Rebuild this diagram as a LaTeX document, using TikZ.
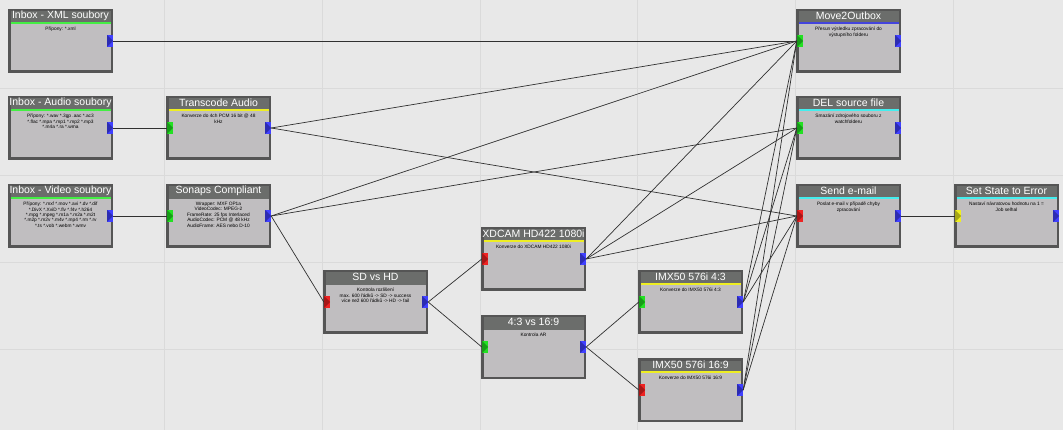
\documentclass[tikz,border=0pt]{standalone}
\usepackage{fontspec}
\setmainfont{Liberation Sans}
\usetikzlibrary{calc}
\definecolor{bgc}{HTML}{E8E8E8}
\definecolor{gridc}{HTML}{DADADA}
\definecolor{bodyc}{HTML}{C0BEC0}
\definecolor{titlec}{HTML}{6B6D6B}
\definecolor{borderc}{HTML}{555555}
\definecolor{lgreen}{HTML}{44EE44}
\definecolor{lyellow}{HTML}{EEEE22}
\definecolor{lblue}{HTML}{4444DD}
\definecolor{lcyan}{HTML}{44EEEE}
\definecolor{pgreen}{HTML}{22E022}
\definecolor{pred}{HTML}{EE2222}
\definecolor{pblue}{HTML}{4040FF}
\definecolor{pyellow}{HTML}{EEEE22}
\definecolor{wirec}{HTML}{303030}
\tikzset{
  wfbody/.style={rectangle, anchor=north west, minimum width=105pt, minimum height=64pt, inner sep=0pt, fill=bodyc, draw=none},
  wftitle/.style={text=white, font=\fontsize{10.5}{12}\selectfont, inner sep=0pt},
  wftext/.style={text=black, font=\fontsize{4.8}{5.4}\selectfont, align=center, inner sep=0pt, anchor=north},
  wfport/.style={rectangle, minimum width=6pt, minimum height=12pt, inner sep=0pt, draw=none,
    path picture={\fill[black, opacity=0.3] (path picture bounding box.north west) -- (path picture bounding box.east) -- (path picture bounding box.south west) -- cycle;}},
  wire/.style={draw=wirec, line width=0.7pt},
}
% #1 name, #2 x, #3 y, #4 title, #5 body, #6 line colour
\newcommand\wfblock[6]{%
  \node[wfbody] (#1) at (#2,#3) {};
  \fill[titlec] (#2,#3) rectangle ++(105,13);
  \fill[#6] ($(#2,#3)+(0,13)$) rectangle ++(105,2);
  \draw[borderc, line width=2.5pt] ($(#2,#3)+(1.25,1.25)$) rectangle ++(102.5,61.5);
  \node[wftitle] (#1-title) at ($(#2,#3)+(52.5,7)$) {#4};
  \node[wftext] (#1-text) at ($(#2,#3)+(52.5,18)$) {#5};
}
% #1 name, #2 x, #3 y, #4 colour
\newcommand\wfport[4]{%
  \node[wfport, fill=#4] (#1) at (#2,#3) {};
}
\begin{document}
\begin{tikzpicture}[x=1pt,y=-1pt]
\useasboundingbox (0,0) rectangle (1063,430);
\fill[bgc] (0,0) rectangle (1063,430);
\foreach \gx in {164,322,480,637,795,953} {\draw[gridc, line width=0.8pt] (\gx,0) -- (\gx,430);}
\foreach \gy in {88,175,262,349} {\draw[gridc, line width=0.8pt] (0,\gy) -- (1063,\gy);}

\wfblock{xml}{8}{9}{Inbox - XML soubory}{Přípony: *.xml}{lgreen}
\wfblock{audio}{8}{96}{Inbox - Audio soubory}{Přípony: *.wav *.3gp .aac *.ac3\\*.flac *.mpa *.mp1 *.mp2 *.mp3\\*.m4a *.ra *.wma}{lgreen}
\wfblock{video}{8}{184}{Inbox - Video soubory}{Přípony: *.mxf *.mov *.avi *.dv *.dif\\*.DivX *.XviD *.flv *.f4v *.h264\\*.mpg *.mpeg *.m1a *.m2a *.m2t\\*.m2p *.m2v *.m4v *.mp4 *.rm *.rv\\*.ts *.vob *.webm *.wmv}{lgreen}
\wfblock{trans}{166}{96}{Transcode Audio}{Konverze do 4ch PCM 16 bit @ 48\\kHz}{lyellow}
\wfblock{sonaps}{166}{184}{Sonaps Compliant}{Wrapper: MXF OP1a\\VideoCodec: MPEG-2\\FrameRate: 25 fps Interlaced\\AudioCodec: PCM @ 48 kHz\\AudioFrame: AES nebo D-10}{titlec}
\wfblock{sdhd}{323}{270}{SD vs HD}{Kontrola rozlišení\\max. 600 řádků -> SD -> success\\více než 600 řádků -> HD -> fail}{titlec}
\wfblock{xdcam}{481}{227}{XDCAM HD422 1080i}{Konverze do XDCAM HD422 1080i}{lyellow}
\wfblock{ar}{481}{315}{4:3 vs 16:9}{Kontrola AR}{titlec}
\wfblock{imxa}{638}{270}{IMX50 576i 4:3}{Konverze do IMX50 576i 4:3}{lyellow}
\wfblock{imxb}{638}{358}{IMX50 576i 16:9}{Konverze do IMX50 576i 16:9}{lyellow}
\wfblock{move}{796}{9}{Move2Outbox}{Přesun výsledku zpracování do\\výstupního folderu}{lblue}
\wfblock{del}{796}{96}{DEL source file}{Smazání zdrojového souboru z\\watchfolderu}{lcyan}
\wfblock{send}{796}{184}{Send e-mail}{Poslat e-mail v případě chyby\\zpracování}{lcyan}
\wfblock{err}{954}{184}{Set State to Error}{Nastaví návratovou hodnotu na 1 =\\Job selhal}{lcyan}

% output ports
\wfport{xml-out}{110}{41}{pblue}
\wfport{audio-out}{110}{128}{pblue}
\wfport{video-out}{110}{216}{pblue}
\wfport{trans-out}{268}{128}{pblue}
\wfport{sonaps-out}{268}{216}{pblue}
\wfport{sdhd-out}{425}{302}{pblue}
\wfport{xdcam-out}{583}{259}{pblue}
\wfport{ar-out}{583}{347}{pblue}
\wfport{imxa-out}{740}{302}{pblue}
\wfport{imxb-out}{740}{390}{pblue}
\wfport{move-out}{898}{41}{pblue}
\wfport{del-out}{898}{128}{pblue}
\wfport{send-out}{898}{216}{pblue}
\wfport{err-out}{1056}{216}{pblue}
% input ports
\wfport{trans-in}{170}{128}{pgreen}
\wfport{sonaps-in}{170}{216}{pgreen}
\wfport{sdhd-in}{327}{302}{pred}
\wfport{xdcam-in}{485}{259}{pred}
\wfport{ar-in}{485}{347}{pgreen}
\wfport{imxa-in}{642}{302}{pgreen}
\wfport{imxb-in}{642}{390}{pred}
\wfport{move-in}{800}{41}{pgreen}
\wfport{del-in}{800}{128}{pgreen}
\wfport{send-in}{800}{216}{pred}
\wfport{err-in}{958}{216}{pyellow}

% connectors
\draw[wire] (xml-out.east) -- (move-in.west);
\draw[wire] (audio-out.east) -- (trans-in.west);
\draw[wire] (video-out.east) -- (sonaps-in.west);
\draw[wire] (trans-out.east) -- (move-in.west);
\draw[wire] (trans-out.east) -- (send-in.west);
\draw[wire] (sonaps-out.east) -- (move-in.west);
\draw[wire] (sonaps-out.east) -- (del-in.west);
\draw[wire] (sonaps-out.east) -- (sdhd-in.west);
\draw[wire] (sdhd-out.east) -- (xdcam-in.west);
\draw[wire] (sdhd-out.east) -- (ar-in.west);
\draw[wire] (xdcam-out.east) -- (move-in.west);
\draw[wire] (xdcam-out.east) -- (del-in.west);
\draw[wire] (xdcam-out.east) -- (send-in.west);
\draw[wire] (ar-out.east) -- (imxa-in.west);
\draw[wire] (ar-out.east) -- (imxb-in.west);
\draw[wire] (imxa-out.east) -- (move-in.west);
\draw[wire] (imxa-out.east) -- (del-in.west);
\draw[wire] (imxa-out.east) -- (send-in.west);
\draw[wire] (imxb-out.east) -- (move-in.west);
\draw[wire] (imxb-out.east) -- (del-in.west);
\draw[wire] (imxb-out.east) -- (send-in.west);
\draw[wire] (send-out.east) -- (err-in.west);
\end{tikzpicture}
\end{document}
